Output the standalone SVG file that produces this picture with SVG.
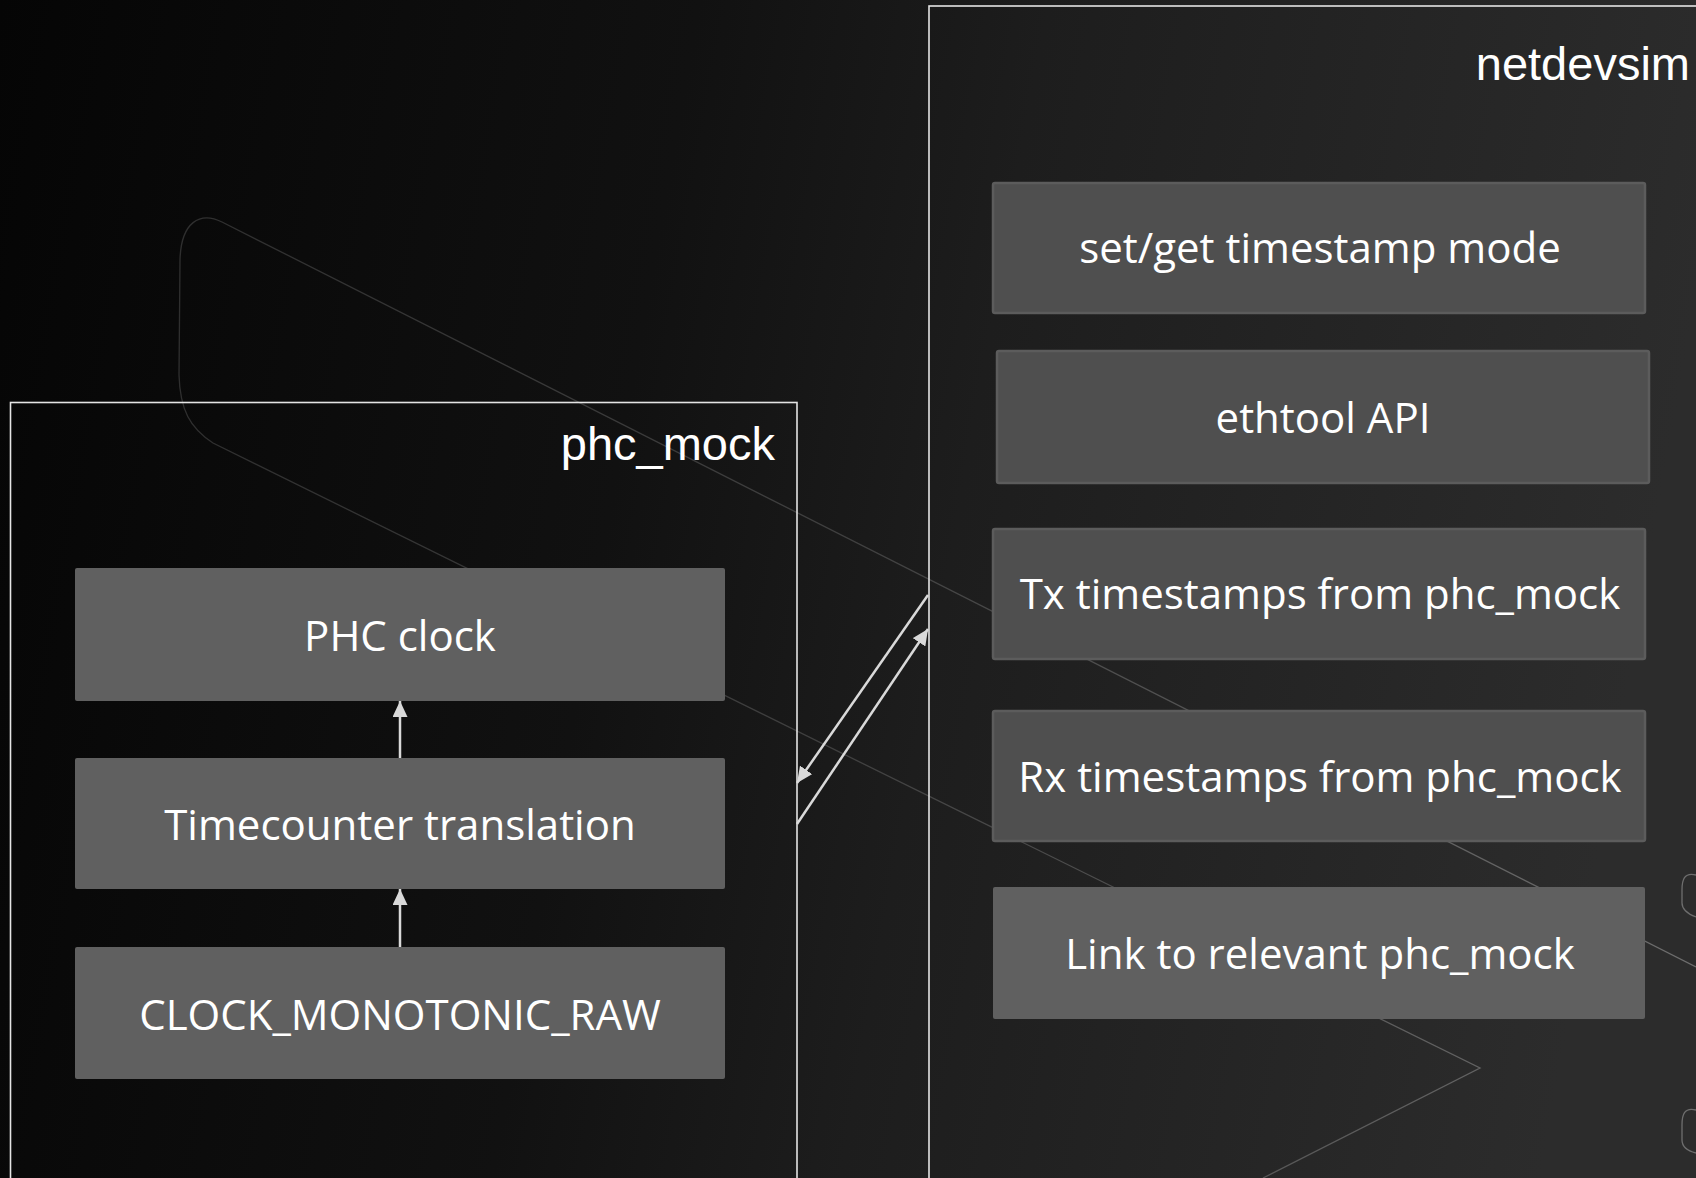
<svg xmlns="http://www.w3.org/2000/svg" width="1696" height="1178" viewBox="0 0 1696 1178">
  <defs>
    <linearGradient id="bg" x1="0" y1="0" x2="1696" y2="300" gradientUnits="userSpaceOnUse">
      <stop offset="0" stop-color="#050505"/>
      <stop offset="0.4" stop-color="#111111"/>
      <stop offset="0.6" stop-color="#1d1d1d"/>
      <stop offset="1" stop-color="#2c2c2c"/>
    </linearGradient>
    <linearGradient id="deco" x1="0" y1="0" x2="1696" y2="0" gradientUnits="userSpaceOnUse">
      <stop offset="0" stop-color="#2a2a2a"/>
      <stop offset="0.5" stop-color="#404040"/>
      <stop offset="1" stop-color="#6e6e6e"/>
    </linearGradient>
    <marker id="arr" viewBox="0 0 16 15" refX="16" refY="7.5" markerWidth="16" markerHeight="15" markerUnits="userSpaceOnUse" orient="auto">
      <path d="M0,0 L16,7.5 L0,15 z" fill="#d9d9d9"/>
    </marker>
    <style>
      .container { fill: none; stroke: #e4e4e4; stroke-width: 1.6; }
      .title { font-family: "Liberation Sans", Arial, sans-serif; font-size: 47px; fill: #ffffff; text-anchor: end; }
      .boxA { fill: #606060; }
      .boxB { fill: #4f4f4f; stroke: #5c5c5c; stroke-width: 2.5; }
      .label { font-family: "Open Sans", "Noto Sans", sans-serif; font-size: 42px; fill: #ffffff; text-anchor: middle; }
      .conn { stroke: #d9d9d9; stroke-width: 2.5; fill: none; marker-end: url(#arr); }
      .deco { fill: none; stroke: url(#deco); stroke-width: 1.3; }
    </style>
  </defs>

  <rect x="0" y="0" width="1696" height="1178" fill="url(#bg)"/>

  <g id="decoration">
    <path class="deco" d="M1696,967 L222,222 C200,211 181,222 180,260 L179,375 C180,410 190,428 213,443 L1480,1068 L1263,1178"/>
    <path class="deco" d="M1696,875 C1684,872 1682,880 1682,890 L1682,903 C1682,910 1688,914 1696,917"/>
    <path class="deco" d="M1696,1110 C1684,1107 1682,1115 1682,1125 L1682,1140 C1682,1147 1688,1151 1696,1153"/>
  </g>

  <g id="phc_mock">
    <rect class="container" x="10.5" y="402.5" width="786.5" height="820"/>
    <text class="title" x="775" y="460">phc_mock</text>
  </g>

  <g id="netdevsim">
    <rect class="container" x="929" y="6" width="800" height="1220"/>
    <text class="title" x="1690" y="80">netdevsim</text>
  </g>

  <g id="phc-clock">
    <rect class="boxA" x="75" y="568" width="650" height="133" rx="2"/>
    <text class="label" x="400" y="651">PHC clock</text>
  </g>
  <g id="timecounter">
    <rect class="boxA" x="75" y="758" width="650" height="131" rx="2"/>
    <text class="label" x="400" y="840">Timecounter translation</text>
  </g>
  <g id="clock-monotonic-raw">
    <rect class="boxA" x="75" y="947" width="650" height="132" rx="2"/>
    <text class="label" x="400" y="1030">CLOCK_MONOTONIC_RAW</text>
  </g>

  <g id="set-get-mode">
    <rect class="boxB" x="993" y="183" width="652" height="130" rx="2"/>
    <text class="label" x="1320" y="263">set/get timestamp mode</text>
  </g>
  <g id="ethtool-api">
    <rect class="boxB" x="997" y="351" width="652" height="132" rx="2"/>
    <text class="label" x="1323" y="433">ethtool API</text>
  </g>
  <g id="tx-timestamps">
    <rect class="boxB" x="993" y="529" width="652" height="130" rx="2"/>
    <text class="label" x="1320" y="609">Tx timestamps from phc_mock</text>
  </g>
  <g id="rx-timestamps">
    <rect class="boxB" x="993" y="711" width="652" height="130" rx="2"/>
    <text class="label" x="1320" y="792">Rx timestamps from phc_mock</text>
  </g>
  <g id="link-phc-mock">
    <rect class="boxA" x="993" y="887" width="652" height="132" rx="2"/>
    <text class="label" x="1320" y="969">Link to relevant phc_mock</text>
  </g>

  <g id="connectors">
    <path class="conn" d="M400,758 L400,701"/>
    <path class="conn" d="M400,947 L400,889"/>
    <path class="conn" d="M928,595 L797,783"/>
    <path class="conn" d="M797,824 L928,629"/>
  </g>
</svg>
